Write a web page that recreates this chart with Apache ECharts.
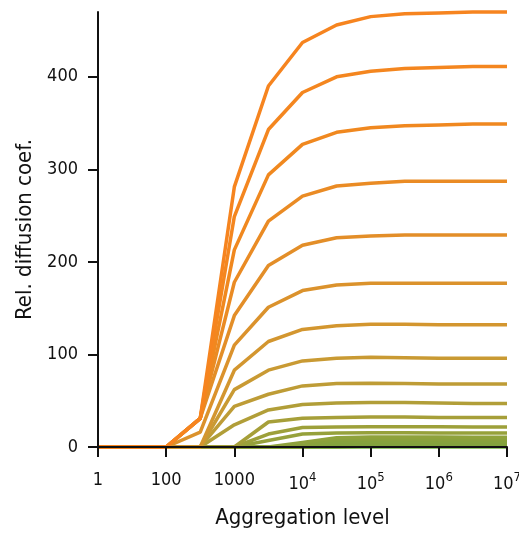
<!DOCTYPE html>
<html>
<head>
<meta charset="utf-8">
<script src="https://cdn.jsdelivr.net/npm/echarts@6/dist/echarts.min.js"></script>
<style>html,body{margin:0;padding:0;background:#fff}#c{width:519px;height:536px}</style>
</head>
<body>
<div id="c"></div>
<script>
// Aggregation levels (x). The reference's first tick ("1") sits one decade-width left of 100.
const levels = [10, 100, 316.2, 1000, 3162, 10000, 31623, 100000, 316228, 1000000, 3162278, 10000000];
// Series values, top (orange) to bottom (green)
const s01 = [0,0,31,281,390,437,456,465,468,469,470,470];
const s02 = [0,0,31,249,343,383,400,406,409,410,411,411];
const s03 = [0,0,31,213,294,327,340,345,347,348,349,349];
const s04 = [0,0,31,178,244,271,282,285,287,287,287,287];
const s05 = [0,0,31,142,196,218,226,228,229,229,229,229];
const s06 = [0,0,16,110,151,169,175,177,177,177,177,177];
const s07 = [0,0,0,83,114,127,131,132.5,132.5,132,132,132];
const s08 = [0,0,0,62,83,93,96,97,96.5,96,96,96];
const s09 = [0,0,0,44,57,66,68.5,69,68.5,68,68,68];
const s10 = [0,0,0,24,40,46,47.5,48,48,47.5,47,47];
const s11 = [0,0,0,0,27,31,32,32.5,32.5,32,32,32];
const s12 = [0,0,0,0,14,21,21.5,22,22,21.8,21.6,21.6];
const s13 = [0,0,0,0,7,14,15,15.3,15.3,15.2,15,15];
const s14 = [0,0,0,0,0,5,10,10.7,10.8,10.7,10.6,10.5];
const s15 = [0,0,0,0,0,2,8,8.3,8.3,8.2,8.1,8];
const s16 = [0,0,0,0,0,0,5.5,6,6,6,6,6];
const s17 = [0,0,0,0,0,0,3.5,4,4,4,4,4];
const s18 = [0,0,0,0,0,0,1.5,2.5,2.5,2.5,2.5,2.5];
const s19 = [0,0,0,0,0,0,0,1.2,1.2,1.2,1.2,1.2];
const s20 = [0,0,0,0,0,0,0,0,0,0,0,0];
const allSeries = [s01,s02,s03,s04,s05,s06,s07,s08,s09,s10,s11,s12,s13,s14,s15,s16,s17,s18,s19,s20];

// Tick positions and their labels
const xTickValues = [10, 100, 1000, 10000, 100000, 1000000, 10000000];
const xTickLabels = ['1', '100', '1000', '10^4', '10^5', '10^6', '10^7'];
const yTicks = [0, 100, 200, 300, 400];

// Palette (style), top to bottom
const palette = ['#F6841F','#F4861F','#F0881F','#EA8B24','#E38E28','#DB922C','#D3962F','#C99A33','#BE9C36','#B19E38',
                 '#A69F39','#9DA03A','#96A13B','#8FA23C','#8AA23C','#86A33D','#83A33D','#80A43D','#7DA53E','#70B441'];

const FONT = "'Liberation Sans Narrow', 'DejaVu Sans Condensed', sans-serif";

const series = [];
for (let i = allSeries.length - 1; i >= 0; i--) {
  series.push({
    type: 'line',
    data: levels.map((x, j) => [x, allSeries[i][j]]),
    showSymbol: false,
    clip: false,
    lineStyle: { width: 3.5, color: palette[i] },
    itemStyle: { color: palette[i] },
    silent: true
  });
}

const chart = echarts.init(document.getElementById('c'), null, { renderer: 'canvas' });
chart.setOption({
  animation: false,
  backgroundColor: '#fff',
  grid: { left: 98, right: 12, top: 12, bottom: 89, outerBoundsMode: 'none', containLabel: false },
  xAxis: {
    type: 'log', logBase: 10, min: 10, max: 10000000,
    z: 10,
    name: 'Aggregation level', nameLocation: 'middle', nameGap: 60,
    nameTextStyle: { fontFamily: FONT, fontSize: 22, color: '#111' },
    axisLine: { show: true, lineStyle: { color: '#111', width: 2 } },
    axisTick: { show: true, inside: false, length: 10, lineStyle: { color: '#111', width: 2 }, customValues: xTickValues },
    minorTick: { show: false },
    splitLine: { show: false },
    axisLabel: {
      customValues: xTickValues, margin: 24, fontFamily: FONT, fontSize: 18, color: '#111',
      formatter: function (v) {
        let k = 0, best = Infinity;
        xTickValues.forEach((t, i) => { const d = Math.abs(Math.log10(t) - Math.log10(v)); if (d < best) { best = d; k = i; } });
        const lab = xTickLabels[k];
        if (lab.indexOf('^') < 0) return lab;
        const p = lab.split('^');
        return '{b|' + p[0] + '}{s|' + p[1] + '}';
      },
      rich: {
        b: { fontFamily: FONT, fontSize: 18, color: '#111', lineHeight: 22, verticalAlign: 'bottom' },
        s: { fontFamily: FONT, fontSize: 13, color: '#111', lineHeight: 22, verticalAlign: 'top', padding: [0, 0, 8, 0] }
      }
    }
  },
  yAxis: {
    type: 'value', min: 0, max: 470,
    z: 10,
    name: 'Rel. diffusion coef.', nameLocation: 'middle', nameGap: 60,
    nameTextStyle: { fontFamily: FONT, fontSize: 22, color: '#111' },
    axisLine: { show: true, lineStyle: { color: '#111', width: 2 } },
    axisTick: { show: true, inside: false, length: 10, lineStyle: { color: '#111', width: 2 }, customValues: yTicks },
    splitLine: { show: false },
    axisLabel: { customValues: yTicks, margin: 20, fontFamily: FONT, fontSize: 18, color: '#111' }
  },
  series: series
});
</script>
</body>
</html>
